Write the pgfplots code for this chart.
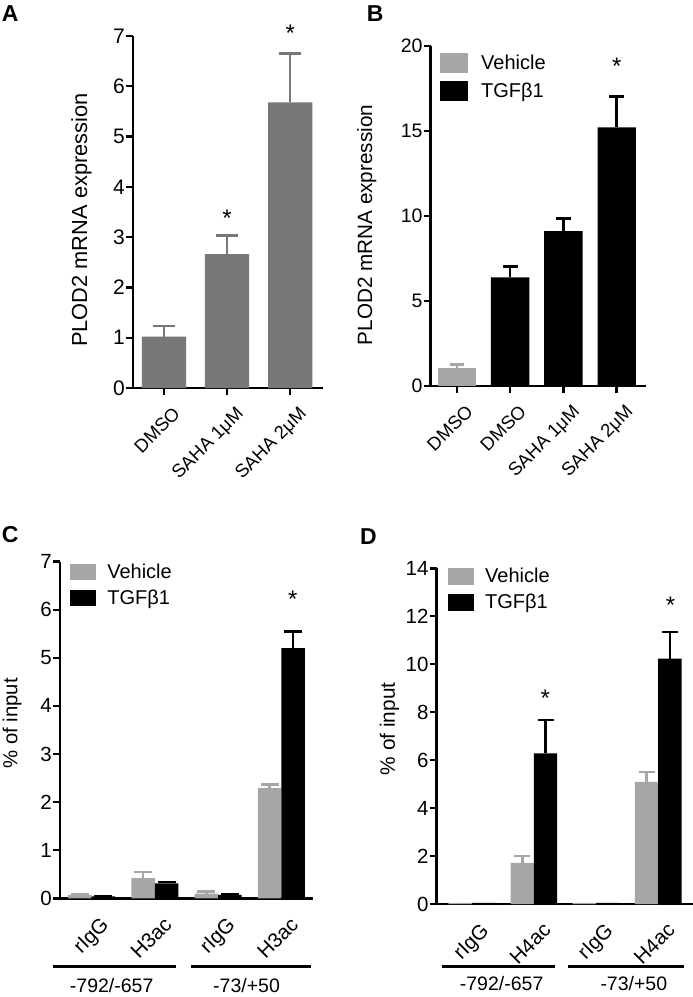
\documentclass[border=0pt]{standalone}
\usepackage{fontspec}
\setmainfont{Liberation Sans}
\usepackage{pgfplots}
\pgfplotsset{compat=1.18}
\definecolor{gA}{HTML}{787878}
\definecolor{gL}{HTML}{A6A6A6}
\newcommand{\fs}[1]{\fontsize{#1}{#1}\selectfont}
\pgfplotsset{
 panel/.style={
  scale only axis, axis lines=left,
  axis line style={-, line width=2.6pt, black},
  tick style={line width=2.4pt, black}, tick align=outside, major tick length=7pt,
  clip=false, ymin=0,
  /pgf/number format/assume math mode=true,
  yticklabel style={font=\fs{21}, inner sep=1pt},
  xticklabel style={xshift=8pt, yshift=-9pt, font=\fs{18.5}, rotate=45, anchor=north east, inner sep=1pt},
  ylabel style={font=\fs{21}, anchor=south, inner sep=0pt},
  legend style={draw=none, fill=none, inner sep=0pt, font=\fs{20}, cells={anchor=west}, anchor=north west, column sep=9pt},
 },
 ebar/.style 2 args={line width=2.6pt, error bars/.cd, y dir=plus, y explicit,
   error bar style={line width=2.6pt, solid, draw=#1},
   error mark options={rotate=90, line width=2.6pt, solid, draw=#1, mark size=#2}},
}
\begin{document}
\begin{tikzpicture}
\useasboundingbox (0pt,0pt) rectangle (693pt,-997pt);
% panel letters
\node[font=\bfseries\fs{23}, anchor=north west, inner sep=0pt] at (1.7pt,-5pt) {A};
\node[font=\bfseries\fs{23}, anchor=north west, inner sep=0pt] at (366.7pt,-5pt) {B};
\node[font=\bfseries\fs{23}, anchor=north west, inner sep=0pt] at (1.7pt,-526.7pt) {C};
\node[font=\bfseries\fs{23}, anchor=north west, inner sep=0pt] at (360pt,-528pt) {D};

% ---------------- A
\begin{axis}[panel, at={(133pt,-388pt)}, anchor=south west, width=190pt, height=352pt,
  xmin=-0.49, xmax=2.52, ymax=7, ytick={0,1,...,7}, xtick={0,1,2},
  xticklabels={DMSO, SAHA 1μM, SAHA 2μM},
  ylabel={PLOD2 mRNA expression},
  ylabel style={font=\fs{21.8}, at={(axis description cs:-0.216,0.477)}}]
\addplot[ybar, bar width=0.7, fill=gA, draw=none, ebar={gA}{11pt}] coordinates {
 (0,1.02) +- (0,0.21)
 (1,2.66) +- (0,0.37)
 (2,5.68) +- (0,0.97)};
\node[font=\fs{24}] at (axis cs:1,3.37) {*};
\node[font=\fs{24}] at (axis cs:2,7.06) {*};
\end{axis}

% ---------------- B
\begin{axis}[panel, at={(430.7pt,-386pt)}, anchor=south west, width=215.3pt, height=340.3pt,
  xmin=-0.49, xmax=3.55, ymax=20, ytick={0,5,10,15,20}, xtick={0,1,2,3},
  yticklabel style={font=\fs{19.5}},
  xticklabels={DMSO, DMSO, SAHA 1μM, SAHA 2μM},
  ylabel={PLOD2 mRNA expression},
  ylabel style={font=\fs{20.7}, at={(axis description cs:-0.251,0.473)}},
  legend style={at={(axis description cs:0.043,0.978)}, row sep=8pt, column sep=11pt},
  legend image code/.code={\fill[#1] (0pt,-10pt) rectangle (28pt,10pt);}]
\addplot[ybar, bar width=0.72, fill=gL, draw=none, ebar={gL}{7pt}] coordinates {
 (0,1.06) +- (0,0.19)};
\addlegendentry{Vehicle}
\addplot[ybar, bar width=0.72, fill=black, draw=none, ebar={black}{7.5pt}] coordinates {
 (1,6.39) +- (0,0.63)
 (2,9.10) +- (0,0.74)
 (3,15.2) +- (0,1.80)};
\addlegendentry{TGFβ1}
\node[font=\fs{24}] at (axis cs:3,18.8) {*};
\end{axis}

% ---------------- C
\begin{axis}[panel, at={(60pt,-898.3pt)}, anchor=south west, width=253pt, height=336.7pt,
  xmin=-0.5, xmax=3.5, ymax=7, ytick={0,1,...,7}, xtick={0,1,2,3},
  x tick style={draw=none}, xticklabel style={font=\fs{20.5}},
  yticklabel style={font=\fs{20.5}},
  xticklabels={rIgG, H3ac, rIgG, H3ac},
  ylabel={\% of input},
  ylabel style={font=\fs{20.3}, at={(axis description cs:-0.151,0.52)}},
  legend style={at={(axis description cs:0.04,1.0)}, row sep=6pt},
  legend image code/.code={\fill[#1] (0pt,-8pt) rectangle (26pt,8pt);}]
\addplot[ybar, bar width=0.37, fill=gL, draw=none, ebar={gL}{9pt}] coordinates {
 (-0.185,0.07) +- (0,0.01)
 (0.815,0.42) +- (0,0.13)
 (1.815,0.10) +- (0,0.04)
 (2.815,2.29) +- (0,0.08)};
\addlegendentry{Vehicle}
\addplot[ybar, bar width=0.37, fill=black, draw=none, ebar={black}{9pt}] coordinates {
 (0.185,0.04) +- (0,0.01)
 (1.185,0.31) +- (0,0.03)
 (2.185,0.07) +- (0,0.02)
 (3.185,5.20) +- (0,0.35)};
\addlegendentry{TGFβ1}
\node[font=\fs{24}] at (axis cs:3.18,6.22) {*};
\draw[line width=2.6pt] (axis cs:-0.606,-1.42) -- (axis cs:1.334,-1.42);
\draw[line width=2.6pt] (axis cs:1.566,-1.42) -- (axis cs:3.464,-1.42);
\node[font=\fs{19.5}, anchor=base] at (axis cs:0.317,-1.95) {-792/-657};
\node[font=\fs{19.5}, anchor=base] at (axis cs:2.45,-1.95) {-73/+50};
\end{axis}

% ---------------- D
\begin{axis}[panel, at={(436.7pt,-904pt)}, anchor=south west, width=256.3pt, height=335.7pt,
  xmin=-0.564, xmax=3.56, ymax=14, ytick={0,2,...,14}, xtick={0,1,2,3},
  x tick style={draw=none}, xticklabel style={font=\fs{20.5}},
  yticklabel style={font=\fs{20.5}},
  xticklabels={rIgG, H4ac, rIgG, H4ac},
  ylabel={\% of input},
  ylabel style={font=\fs{20.8}, at={(axis description cs:-0.146,0.522)}},
  legend style={at={(axis description cs:0.044,1.007)}, row sep=6pt},
  legend image code/.code={\fill[#1] (0pt,-8.5pt) rectangle (26pt,8.5pt);}]
\addplot[ybar, bar width=0.375, fill=gL, draw=none, ebar={gL}{8pt}] coordinates {
 (0.8125,1.72) +- (0,0.28)
 (2.8125,5.09) +- (0,0.41)};
\addlegendentry{Vehicle}
\addplot[ybar, bar width=0.375, fill=black, draw=none, ebar={black}{8pt}] coordinates {
 (1.1875,6.28) +- (0,1.39)
 (3.1875,10.23) +- (0,1.12)};
\addlegendentry{TGFβ1}
\addplot[ybar, bar width=0.375, fill=gL, draw=none, forget plot] coordinates {
 (-0.1875,0.05) (1.8125,0.05)};
\addplot[ybar, bar width=0.375, fill=black, draw=none, forget plot] coordinates {
 (0.1875,0.05) (2.1875,0.05)};
\node[font=\fs{24}] at (axis cs:1.185,8.58) {*};
\node[font=\fs{24}] at (axis cs:3.2,12.47) {*};
\draw[line width=2.6pt] (axis cs:-0.484,-2.61) -- (axis cs:1.338,-2.61);
\draw[line width=2.6pt] (axis cs:1.552,-2.61) -- (axis cs:3.412,-2.61);
\node[font=\fs{19.5}, anchor=base] at (axis cs:0.481,-3.6) {-792/-657};
\node[font=\fs{19.5}, anchor=base] at (axis cs:2.608,-3.6) {-73/+50};
\end{axis}
\end{tikzpicture}
\end{document}
